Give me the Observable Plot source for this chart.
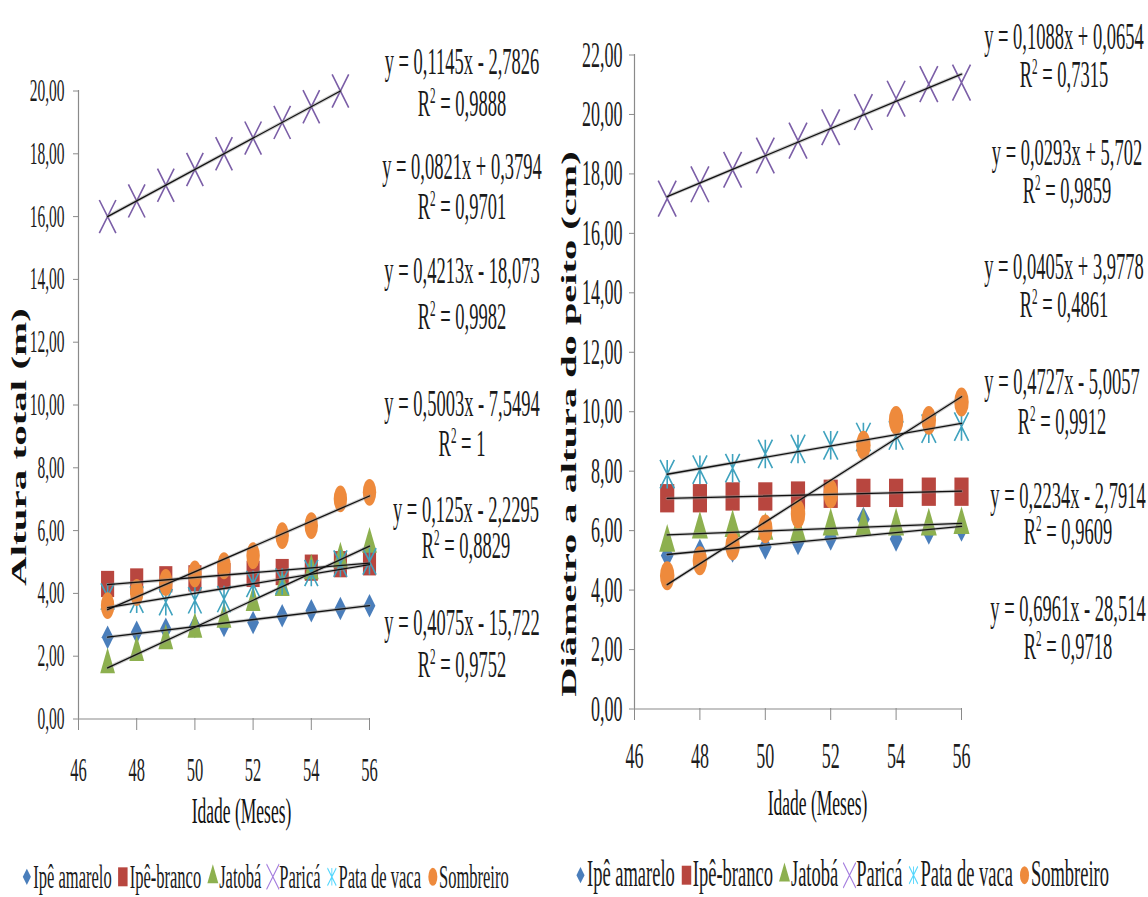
<!DOCTYPE html>
<html>
<head>
<meta charset="utf-8">
<script src="https://cdn.jsdelivr.net/npm/d3@7"></script>
<script src="https://cdn.jsdelivr.net/npm/@observablehq/plot@0.6"></script>
<style>
html, body { margin: 0; padding: 0; background: #fff; }
#page { position: relative; width: 1148px; height: 897px; overflow: hidden; font-family: "Liberation Serif", "DejaVu Serif", serif; color: #1a1a1a; }
#page svg.chart { position: absolute; top: 0; }
svg.chart path, svg.chart line { vector-effect: non-scaling-stroke; }
.eq { position: absolute; white-space: nowrap; transform: translate(-50%, -50%) scale(1, 2); font-size: 18.5px; text-align: center; }
.eq sup { font-size: 0.6em; vertical-align: 0.6em; line-height: 0; }
.legend { position: absolute; white-space: nowrap; transform: translate(-50%, -50%) scale(1, 2); display: flex; align-items: center; line-height: 0.8; }
.legend .item { display: inline-flex; align-items: center; margin-right: 6px; }
.legend .item svg { margin-right: 1px; overflow: visible; }
</style>
</head>
<body>
<div id="page"></div>
<script>
// ---------------- DATA ----------------
const meses = [47, 48, 49, 50, 51, 52, 53, 54, 55, 56];
const especies = ["Ipê amarelo", "Ipê-branco", "Jatobá", "Paricá", "Pata de vaca", "Sombreiro"];

// Altura total (m)
const alturaIpeAmarelo = [2.60, 2.76, 2.86, 2.95, 2.98, 3.07, 3.29, 3.45, 3.52, 3.61];
const alturaIpeBranco  = [4.30, 4.38, 4.45, 4.48, 4.55, 4.62, 4.68, 4.82, 4.93, 4.99];
const alturaJatoba     = [1.73, 2.12, 2.49, 2.86, 3.18, 3.71, 4.19, 4.72, 5.10, 5.57];
const alturaParica     = [16.0, 16.5, 17.0, 17.5, 18.0, 18.5, 19.0, 19.5, 20.0];
const alturaPataDeVaca = [3.90, 3.80, 3.72, 3.78, 3.82, 4.30, 4.38, 4.65, 4.95, 5.02];
const alturaSombreiro  = [3.61, 4.03, 4.35, 4.62, 4.88, 5.20, 5.84, 6.16, 7.01, 7.22];

// Diâmetro a altura do peito (cm)
const dapIpeAmarelo = [5.16, 5.30, 5.35, 5.45, 5.60, 5.75, 6.38, 5.72, 5.95, 6.05];
const dapIpeBranco  = [7.09, 7.09, 7.15, 7.15, 7.18, 7.24, 7.27, 7.27, 7.31, 7.31];
const dapJatoba     = [5.60, 6.05, 6.10, 6.00, 5.95, 6.15, 6.15, 6.15, 6.15, 6.20];
const dapParica     = [17.17, 17.65, 18.14, 18.62, 19.12, 19.57, 20.08, 20.53, 21.02, 21.07];
const dapPataDeVaca = [7.90, 8.05, 8.10, 8.58, 8.75, 8.87, 9.15, 9.20, 9.43, 9.50];
const dapSombreiro  = [4.48, 4.99, 5.49, 6.06, 6.56, 7.24, 8.87, 9.71, 9.71, 10.33];

const ticksMeses = [46, 48, 50, 52, 54, 56];
const ticksAltura = [0, 2, 4, 6, 8, 10, 12, 14, 16, 18, 20];
const ticksDap = [0, 2, 4, 6, 8, 10, 12, 14, 16, 18, 20, 22];

const eqAltura = ["y = 0,1145x - 2,7826", "y = 0,0821x + 0,3794", "y = 0,4213x - 18,073", "y = 0,5003x - 7,5494", "y = 0,125x - 2,2295", "y = 0,4075x - 15,722"];
const r2Altura = ["0,9888", "0,9701", "0,9982", "1", "0,8829", "0,9752"];
const eqDap = ["y = 0,1088x + 0,0654", "y = 0,0293x + 5,702", "y = 0,0405x + 3,9778", "y = 0,4727x - 5,0057", "y = 0,2234x - 2,7914", "y = 0,6961x - 28,514"];
const r2Dap = ["0,7315", "0,9859", "0,4861", "0,9912", "0,9609", "0,9718"];

const xTitulo = "Idade (Meses)";
const yTituloAltura = "Altura total (m)";
const yTituloDap = "Diâmetro a altura do peito (cm)";

// ---------------- STYLE ----------------
const asterisco = {
  draw(ctx, size) {
    const r = Math.sqrt(size / Math.PI);
    ctx.moveTo(0, -r); ctx.lineTo(0, r);
    ctx.moveTo(-r, -r); ctx.lineTo(r, r);
    ctx.moveTo(-r, r); ctx.lineTo(r, -r);
  }
};
const estilo = {
  "Ipê amarelo":  {symbol: d3.symbolDiamond2, fill: "#4A7EBB", r: 5.3, leg: 42},
  "Ipê-branco":   {symbol: d3.symbolSquare,   fill: "#B8463F", r: 7.4, leg: 90},
  "Jatobá":       {symbol: d3.symbolTriangle, fill: "#8DB04F", r: 5.5, leg: 52},
  "Paricá":       {symbol: d3.symbolTimes,    stroke: "#7B5EA7", r: 7.6, sw: 1.6, leg: 105},
  "Pata de vaca": {symbol: asterisco,         stroke: "#3FA2BE", r: 6.6, sw: 1.6, leg: 60},
  "Sombreiro":    {symbol: d3.symbolCircle,   fill: "#EE8A3C", r: 6.7, leg: 64}
};

const H = 448.5;   // unstretched SVG height; displayed stretched x2 vertically
const fmt = d => d.toFixed(2).replace(".", ",");

function linhas(series) {
  return especies.flatMap((e, i) => series[i].map((v, j) => ({especie: e, mes: meses[j], valor: v})));
}

function grafico(o) {
  const rows = linhas(o.series);
  const marks = [
    Plot.ruleX([46], {stroke: "#8a8a8a", strokeWidth: 1.2}),
    Plot.ruleY([0], {stroke: "#8a8a8a", strokeWidth: 1.2}),
    Plot.axisY({ticks: o.yTicks, tickSize: 5, tickPadding: o.yPad, tickFormat: fmt, stroke: "#8a8a8a", fill: "#1c1c1c", fontSize: o.yFont, label: null}),
    Plot.axisX({ticks: ticksMeses, tickSize: 6, tickPadding: o.xPad, tickFormat: d => String(d), stroke: "#8a8a8a", fill: "#1c1c1c", fontSize: o.xFont, label: null})
  ];
  for (const e of especies) {
    const s = estilo[e];
    marks.push(Plot.dot(rows.filter(d => d.especie === e), {
      x: "mes", y: "valor", symbol: s.symbol, r: s.r * o.escala,
      fill: s.fill ?? "none", stroke: s.stroke ?? "none", strokeWidth: s.sw ?? 1
    }));
  }
  marks.push(Plot.linearRegressionY(rows, {x: "mes", y: "valor", z: "especie", stroke: "#8c8c8c", strokeWidth: 3.4, strokeOpacity: 0.45, ci: 0}));
  marks.push(Plot.linearRegressionY(rows, {x: "mes", y: "valor", z: "especie", stroke: "#111", strokeWidth: 1.3, ci: 0}));
  marks.push(Plot.text([xTitulo], {text: d => d, frameAnchor: "bottom", textAnchor: "middle", dx: o.xLabDx, dy: o.xLabDy, fontSize: o.xLabFont, fill: "#111"}));
  marks.push(Plot.text([o.yTitulo], {text: d => d, frameAnchor: "left", textAnchor: "middle", lineAnchor: "middle", rotate: -90, dx: o.yLabDx, dy: o.yLabDy, fontSize: o.yLabFont, fontWeight: "bold", fill: "#111"}));
  const svg = Plot.plot({
    width: o.width, height: H,
    marginLeft: o.mL, marginRight: o.mR, marginTop: o.mT, marginBottom: H - o.yBottom,
    x: {domain: [46, 56]},
    y: {domain: [0, o.yMax]},
    style: {fontFamily: "'Liberation Serif', 'DejaVu Serif', serif", background: "transparent", overflow: "visible"},
    marks
  });
  svg.classList.add("chart");
  svg.setAttribute("preserveAspectRatio", "none");
  svg.setAttribute("height", 2 * H);
  svg.style.width = o.width + "px";
  svg.style.height = (2 * H) + "px";
  svg.style.maxWidth = "none";
  svg.style.left = o.left + "px";
  return svg;
}

const page = document.getElementById("page");

page.append(grafico({
  series: [alturaIpeAmarelo, alturaIpeBranco, alturaJatoba, alturaParica, alturaPataDeVaca, alturaSombreiro],
  yTicks: ticksAltura, yMax: 20, yTitulo: yTituloAltura, escala: 1,
  left: 0, width: 400, mL: 78, mR: 31, mT: 45, yBottom: 359,
  yFont: 15.5, yPad: 9, xFont: 16.5, xPad: 13.5, xLabFont: 17.5, yLabFont: 20.5,
  xLabDx: 17.5, xLabDy: 52, yLabDx: -59, yLabDy: 21
}));

page.append(grafico({
  series: [dapIpeAmarelo, dapIpeBranco, dapJatoba, dapParica, dapPataDeVaca, dapSombreiro],
  yTicks: ticksDap, yMax: 22, yTitulo: yTituloDap, escala: 1.08,
  left: 560, width: 430, mL: 74, mR: 29, mT: 27, yBottom: 354,
  yFont: 18, yPad: 7, xFont: 18, xPad: 10.5, xLabFont: 17.5, yLabFont: 20.2,
  xLabDx: 19.5, xLabDy: 53, yLabDx: -65, yLabDy: 21
}));

// Trendline equation blocks (layout: center x, first-line y, second-line y)
const posAltura = [[462, 62, 103], [462, 168, 207], [462, 272, 318], [462, 404, 444], [466, 510, 546], [462, 623, 664]];
const posDap = [[1064, 37, 74], [1067, 153, 190], [1064, 268, 306], [1062, 383, 422], [1068, 496, 532], [1068, 610, 648]];

function equacoes(eqs, r2s, pos) {
  eqs.forEach((eq, i) => {
    const [x, y1, y2] = pos[i];
    const gap = (y2 - y1) / 2;               // unstretched line spacing
    const a = document.createElement("div");
    a.className = "eq";
    a.style.left = x + "px";
    a.style.top = ((y1 + y2) / 2) + "px";
    a.style.lineHeight = gap + "px";
    a.innerHTML = eq + "<br>R<sup>2</sup> = " + r2s[i];
    page.append(a);
  });
}
equacoes(eqAltura, r2Altura, posAltura);
equacoes(eqDap, r2Dap, posDap);

function legenda(cx, cy, fontSize) {
  const div = document.createElement("div");
  div.className = "legend";
  div.style.left = cx + "px"; div.style.top = cy + "px"; div.style.fontSize = fontSize + "px";
  for (const e of especies) {
    const s = estilo[e];
    const item = document.createElement("span");
    item.className = "item";
    const svg = d3.create("svg").attr("width", 11).attr("height", 11).attr("viewBox", "-5.5 -5.5 11 11");
    svg.append("path")
      .attr("d", d3.symbol(s.symbol, s.leg)())
      .attr("fill", s.fill ?? "none")
      .attr("stroke", s.stroke ? d3.color(s.stroke).brighter(0.8) : "none")
      .attr("stroke-width", 0.9);
    item.append(svg.node());
    item.append(document.createTextNode(e));
    div.append(item);
  }
  page.append(div);
}
legenda(268, 877, 16.5);
legenda(845, 875, 18.5);
</script>
</body>
</html>
